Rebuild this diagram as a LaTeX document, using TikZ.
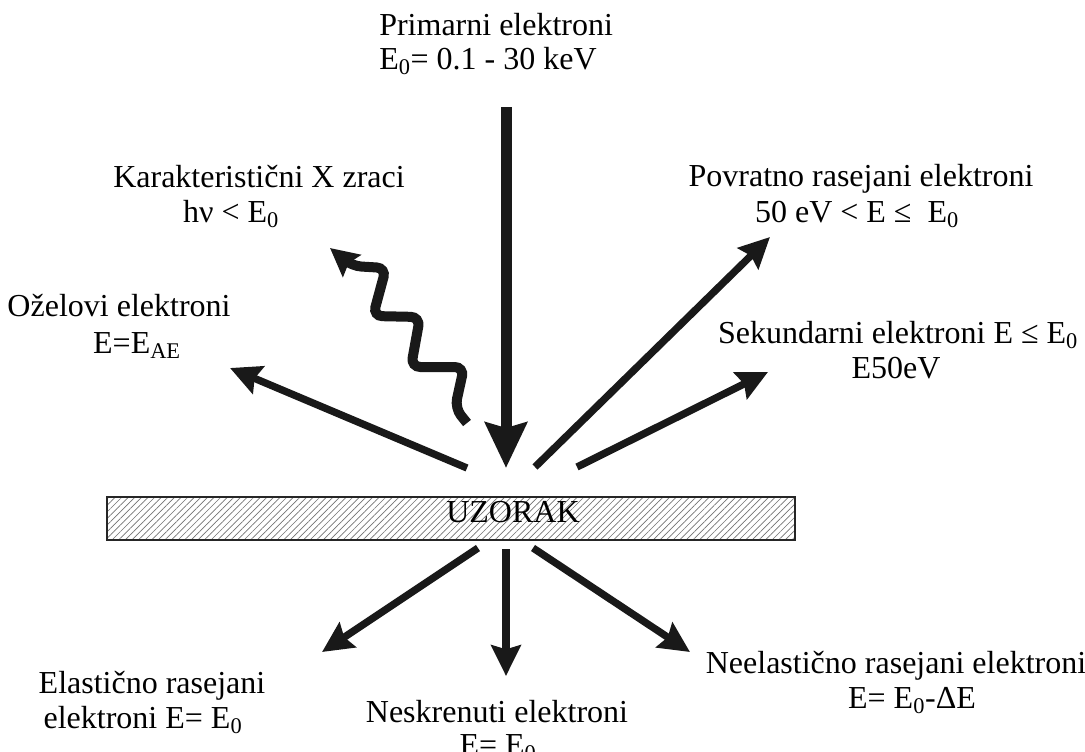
\documentclass[tikz,border=0pt]{standalone}
\usepackage{fontspec}
\setmainfont{Liberation Serif}
\usetikzlibrary{arrows.meta,patterns.meta}
\tikzset{
  lbl/.style={font=\fontsize{24}{26}\selectfont, inner sep=0pt, text height=0.68em, text depth=0.2em},
  ray/.style={line width=5.5pt, draw=black!90, -{Stealth[length=23pt,width=22pt,inset=3pt]}},
  bigray/.style={line width=8.25pt, draw=black!90, -{Stealth[length=34pt,width=31pt,inset=4pt]}},
  wave/.style={line width=7.5pt, draw=black!90, rounded corners=7pt, -{Stealth[length=21pt,width=21pt,inset=3pt]}},
  sample/.style={draw=black!85, line width=2pt, pattern={Lines[angle=45,distance=3.5pt,line width=0.5pt]}, pattern color=black!55}
}
\newcommand{\sub}[1]{\textsubscript{#1}}
\begin{document}
\begin{tikzpicture}[x=0.75pt,y=-0.75pt]
\useasboundingbox (0,0) rectangle (1085,751);

% sample
\node[sample, minimum width=516pt, minimum height=32.25pt, inner sep=0pt] (uz) at (451,518.5) {};
\node[lbl] (uzt) at (513,519) {UZORAK};

% labels
\node[lbl, anchor=west] (prim1) at (379,32) {Primarni elektroni};
\node[lbl, anchor=west] (prim2) at (379,66) {E\sub{0}= 0.1 - 30 keV};
\node[lbl] (xr1) at (259,184) {Karakteristični X zraci};
\node[lbl] (xr2) at (231,219) {hν < E\sub{0}};
\node[lbl] (au1) at (119,313) {Oželovi elektroni};
\node[lbl] (au2) at (137,350) {E=E\sub{AE}};
\node[lbl] (bs1) at (861,183) {Povratno rasejani elektroni};
\node[lbl] (bs2) at (857,219) {50 eV < E ≤\ \ E\sub{0}};
\node[lbl] (se1) at (898,340) {Sekundarni elektroni E ≤ E\sub{0}};
\node[lbl] (se2) at (896,375) {E50eV};
\node[lbl] (el1) at (152,690) {Elastično rasejani};
\node[lbl] (el2) at (143,725) {elektroni E= E\sub{0}};
\node[lbl] (ns1) at (497,719) {Neskrenuti elektroni};
\node[lbl] (ns2) at (498,752) {E= E\sub{0}};
\node[lbl] (in1) at (896,670) {Neelastično rasejani elektroni};
\node[lbl] (in2) at (912,705) {E= E\sub{0}-ΔE};

% coordinates
\coordinate (p0) at (506,107);
\coordinate (p1) at (506,468);
\coordinate (a0) at (467,468);
\coordinate (a1) at (230,368);
\coordinate (b0) at (535,467);
\coordinate (b1) at (770,237);
\coordinate (s0) at (577,467);
\coordinate (s1) at (768,372);
\coordinate (e0) at (478,548);
\coordinate (e1) at (322,652);
\coordinate (n0) at (506,549);
\coordinate (n1) at (506,676);
\coordinate (i0) at (533,548);
\coordinate (i1) at (690,652);
\coordinate (w0) at (467,423);
\coordinate (w1) at (330,248);

% rays
\draw[bigray] (p0) -- (p1);
\draw[ray] (a0) -- (a1);
\draw[ray] (b0) -- (b1);
\draw[ray] (s0) -- (s1);
\draw[ray] (e0) -- (e1);
\draw[ray] (n0) -- (n1);
\draw[ray] (i0) -- (i1);

% x-ray wave
\draw[wave] (w0) -- (455,408) -- (464,367) -- (411,367) -- (420,317) -- (373,316) -- (386,268) -- (352,266) -- (w1);
\end{tikzpicture}
\end{document}
